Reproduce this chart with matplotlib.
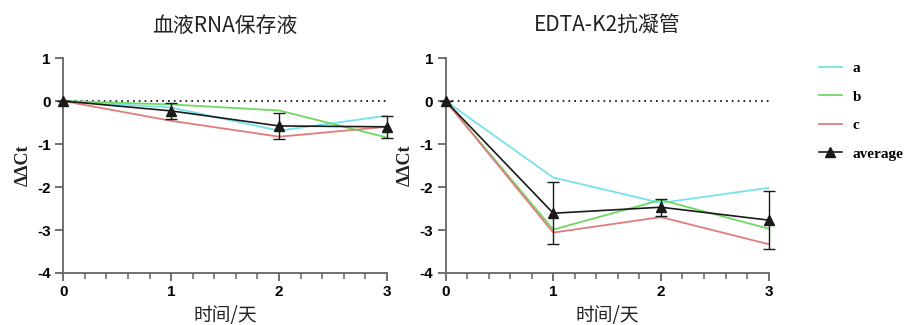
import numpy as np
import matplotlib
matplotlib.use("Agg")
import matplotlib.pyplot as plt
from matplotlib.ticker import MultipleLocator

plt.rcParams['font.family'] = ['Liberation Sans', 'Noto Sans CJK SC', 'DejaVu Sans']
plt.rcParams['axes.unicode_minus'] = False

# ---- data ----
days = [0, 1, 2, 3]
titles = ["血液RNA保存液", "EDTA-K2抗凝管"]

rna_a = [0, -0.15, -0.69, -0.34]
rna_b = [0, -0.08, -0.22, -0.85]
rna_c = [0, -0.46, -0.83, -0.60]
rna_avg = [0, -0.23, -0.58, -0.60]
rna_err = [0, 0.19, 0.31, 0.26]

edta_a = [0, -1.78, -2.37, -2.02]
edta_b = [0, -2.99, -2.30, -2.97]
edta_c = [0, -3.06, -2.70, -3.33]
edta_avg = [0, -2.61, -2.47, -2.77]
edta_err = [0, 0.72, 0.20, 0.68]

CYAN = "#74E3EA"
GREEN = "#6FD862"
RED = "#E07C7C"
INK = "#1a1a1a"
SPINE = "#666666"
CJK = ["Noto Sans CJK SC", "DejaVu Sans"]

fig = plt.figure(figsize=(9.15, 3.25), dpi=100)
fig.patch.set_facecolor("white")
ax1 = fig.add_axes([0.069, 0.16, 0.354, 0.6615])
ax2 = fig.add_axes([0.487, 0.16, 0.353, 0.6615])

panels = [
    (ax1, rna_a, rna_b, rna_c, rna_avg, rna_err, titles[0]),
    (ax2, edta_a, edta_b, edta_c, edta_avg, edta_err, titles[1]),
]

for ax, a, b, c, avg, err, title in panels:
    ax.plot(days, [0] * len(days), color="black", lw=1.2, ls=(0, (1, 2.5)),
            zorder=1, clip_on=False)
    la, = ax.plot(days, a, color=CYAN, lw=1.3, label="a", clip_on=False, zorder=2)
    lb, = ax.plot(days, b, color=GREEN, lw=1.3, label="b", clip_on=False, zorder=2)
    lc, = ax.plot(days, c, color=RED, lw=1.3, label="c", clip_on=False, zorder=2)
    eb = ax.errorbar(days, avg, yerr=err, color=INK, lw=1.2, marker="^", ms=6.5,
                     capsize=4, elinewidth=1.0, capthick=1.0,
                     clip_on=False, zorder=3)

    ax.set_xlim(0, 3)
    ax.set_ylim(-4, 1)
    ax.xaxis.set_major_locator(MultipleLocator(1))
    ax.xaxis.set_minor_locator(MultipleLocator(0.2))
    ax.yaxis.set_major_locator(MultipleLocator(1))
    for side in ["top", "right"]:
        ax.spines[side].set_visible(False)
    for side in ["left", "bottom"]:
        ax.spines[side].set_color(SPINE)
        ax.spines[side].set_linewidth(1.3)
    ax.tick_params(axis="both", which="major", length=6, width=1.3,
                   color=SPINE, labelsize=11, pad=3)
    ax.tick_params(axis="x", which="minor", length=4, width=1.1, color=SPINE)
    for lab in ax.get_xticklabels() + ax.get_yticklabels():
        lab.set_fontweight("bold")
    ax.set_title(title, fontsize=15, color="#222222", pad=19, family=CJK)
    ax.set_xlabel("时间/天", fontsize=13.5, color="#222222", labelpad=4,
                  family=CJK)
    ax.set_ylabel("ΔΔCt", fontsize=13, fontweight="bold", color="#222222",
                  family=["Liberation Serif", "DejaVu Serif"], labelpad=4)

handles = [la, lb, lc, eb[0]]
labels = ["a", "b", "c", "average"]
fig.legend(handles, labels, loc="upper left", bbox_to_anchor=(0.88, 0.853),
           frameon=False, handlelength=1.5, labelspacing=0.97, handletextpad=0.7,
           prop={"family": "Liberation Serif", "weight": "bold", "size": 11})

fig.savefig("out.png", dpi=100, facecolor="white")
